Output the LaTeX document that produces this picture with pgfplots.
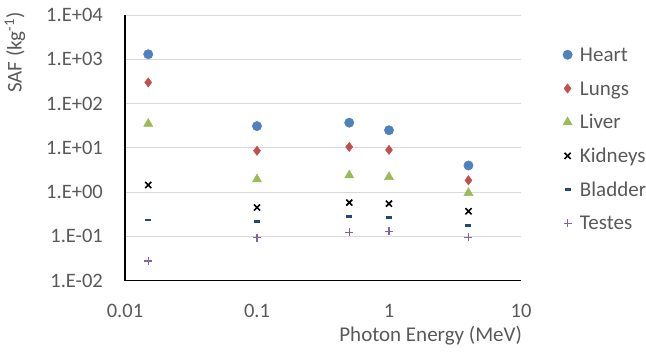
\documentclass[border=0pt]{standalone}
\usepackage{pgfplots}
\pgfplotsset{compat=1.18}
\usepackage{fontspec}
\setmainfont{Carlito}
\definecolor{cHeart}{HTML}{4F81BD}
\definecolor{cLungs}{HTML}{C0504D}
\definecolor{cLiver}{HTML}{9BBB59}
\definecolor{cBladder}{HTML}{1F497D}
\definecolor{cTestes}{HTML}{8064A2}
\definecolor{txt}{HTML}{595959}
\definecolor{gridc}{HTML}{D9D9D9}
\newcommand\ff{\fontsize{20.5bp}{24bp}\selectfont}
\newcommand\fl{\fontsize{21bp}{24bp}\selectfont}
\begin{document}
\begin{tikzpicture}
\useasboundingbox (-125bp,-78.3bp) rectangle (521bp,280.7bp);
\begin{axis}[at={(0,0)}, anchor=south west, scale only axis,
  width=396bp, height=265.7bp,
  xmode=log, ymode=log, xmin=0.01, xmax=10, ymin=0.01, ymax=10000,
  axis lines=left, axis line style={-, black, line width=1.3bp},
  xtick={0.01,0.1,1,10}, xticklabels={0.01,0.1,1,10},
  ytick={0.01,0.1,1,10,100,1000,10000},
  yticklabels={1.E-02,1.E-01,1.E+00,1.E+01,1.E+02,1.E+03,1.E+04},
  minor xtick={}, minor ytick={},
  major tick length=0pt, minor tick length=0pt,
  ymajorgrids, grid style={gridc, line width=1bp},
  tick label style={font=\ff, text=txt, inner sep=0pt},
  xticklabel style={anchor=north, yshift=-23bp},
  yticklabel style={anchor=east, xshift=-22bp},
  xlabel={Photon Energy (MeV)}, ylabel={SAF (kg\textsuperscript{-1})},
  label style={font=\fl, text=txt, inner sep=0pt},
  xlabel style={at={(axis description cs:1.003,-0.205)}, anchor=east},
  ylabel style={at={(axis description cs:-0.278,1.011)}, anchor=east},
  only marks,
  legend image code/.code={\draw[#1] plot coordinates {(5bp,6.6bp)}; \path (0bp,0bp) (16bp,0bp);},
  legend style={at={(axis description cs:1.101,0.879)}, anchor=north west,
    draw=none, fill=none, inner sep=0pt, font=\fl, text=txt, row sep=15.7bp,
    nodes={inner sep=0pt, text height=14bp, text depth=4bp, anchor=base west}},
]
\addplot[mark=*, color=cHeart, mark size=4.7bp] coordinates
  {(0.015,1300) (0.1,31) (0.5,37) (1,25) (4,4.0)};
\addlegendentry{Heart}
\addplot[mark=diamond*, color=cLungs, mark size=4.7bp] coordinates
  {(0.015,300) (0.1,8.6) (0.5,10.5) (1,9.0) (4,1.85)};
\addlegendentry{Lungs}
\addplot[mark=triangle*, color=cLiver, mark size=5.3bp] coordinates
  {(0.015,35) (0.1,1.95) (0.5,2.4) (1,2.2) (4,0.96)};
\addlegendentry{Liver}
\addplot[mark=x, color=black, mark size=4.3bp, line width=1.6bp] coordinates
  {(0.015,1.45) (0.1,0.45) (0.5,0.58) (1,0.55) (4,0.37)};
\addlegendentry{Kidneys}
\addplot[mark=-, color=cBladder, mark size=3bp, line width=2.8bp] coordinates
  {(0.015,0.235) (0.1,0.22) (0.5,0.28) (1,0.27) (4,0.18)};
\addlegendentry{Bladder}
\addplot[mark=+, color=cTestes, mark size=4bp, line width=1.2bp] coordinates
  {(0.015,0.028) (0.1,0.093) (0.5,0.123) (1,0.13) (4,0.095)};
\addlegendentry{Testes}
\end{axis}
\end{tikzpicture}
\end{document}
